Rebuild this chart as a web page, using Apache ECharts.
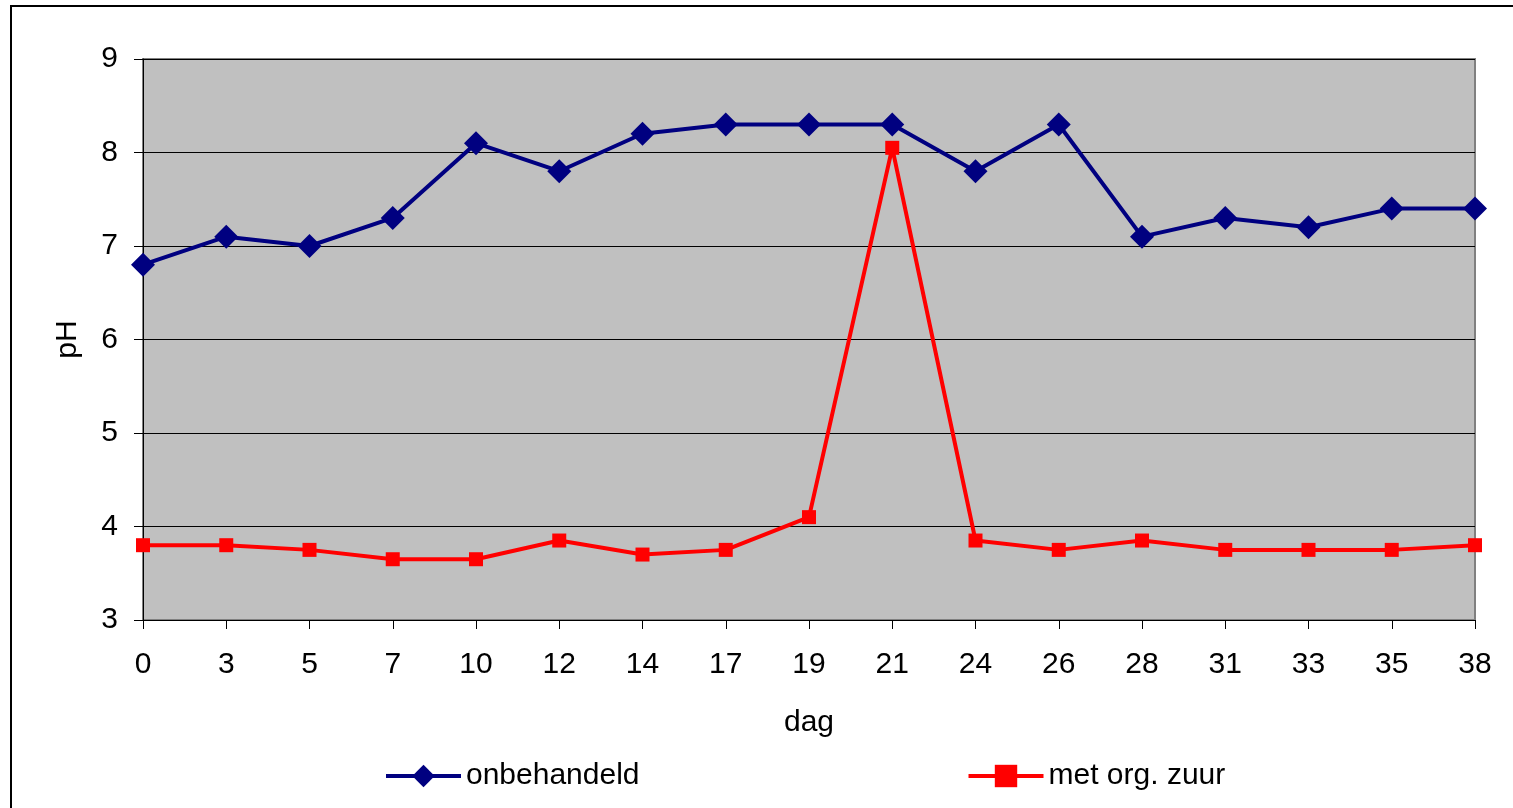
<!DOCTYPE html>
<html>
<head>
<meta charset="utf-8">
<script src="https://cdn.jsdelivr.net/npm/echarts@6/dist/echarts.min.js"></script>
<style>
  html, body { margin: 0; padding: 0; background: #fff; overflow: hidden; }
  #frame { position: absolute; left: 10px; top: 5px; width: 1520px; height: 820px; border: 2px solid #000; box-sizing: border-box; }
  #chart { position: absolute; left: 0; top: 0; width: 1513px; height: 808px; }
</style>
</head>
<body>
<div id="frame"></div>
<div id="chart"></div>
<script>
// dagen en pH-waarden
const days = ['0', '3', '5', '7', '10', '12', '14', '17', '19', '21', '24', '26', '28', '31', '33', '35', '38']
const onbehandeld = [6.8, 7.1, 7.0, 7.3, 8.1, 7.8, 8.2, 8.3, 8.3, 8.3, 7.8, 8.3, 7.1, 7.3, 7.2, 7.4, 7.4]
const metOrgZuur = [3.8, 3.8, 3.75, 3.65, 3.65, 3.85, 3.7, 3.75, 4.1, 8.05, 3.85, 3.75, 3.85, 3.75, 3.75, 3.75, 3.8]

const font = 'Liberation Sans, Arial, sans-serif'
const fs = 30
const myChart = echarts.init(document.getElementById('chart'))

myChart.setOption({
  animation: false,
  textStyle: { fontFamily: font },
  grid: {
    left: 143, right: 38, top: 59, bottom: 188,
    show: true,
    backgroundColor: '#c0c0c0',
    borderColor: '#808080',
    borderWidth: 2
  },
  legend: {
    left: 379,
    top: 756,
    itemGap: 327,
    itemWidth: 75,
    itemHeight: 28,
    lineStyle: { width: 4 },
    textStyle: { fontSize: fs, color: '#000', fontFamily: font },
    data: ['onbehandeld', 'met org. zuur']
  },
  xAxis: {
    type: 'category',
    data: days,
    boundaryGap: false,
    name: 'dag',
    nameLocation: 'middle',
    nameGap: 88,
    nameTextStyle: { fontSize: fs, color: '#000', fontFamily: font },
    axisLine: { lineStyle: { color: '#000', width: 1 } },
    axisTick: { show: true, length: 9, lineStyle: { color: '#000' }, alignWithLabel: true },
    axisLabel: { fontSize: fs, color: '#000', margin: 30, fontFamily: font },
    splitLine: { show: false }
  },
  yAxis: {
    type: 'value',
    min: 3,
    max: 9,
    interval: 1,
    name: 'pH',
    nameLocation: 'middle',
    nameGap: 60,
    nameRotate: 90,
    nameTextStyle: { fontSize: fs, color: '#000', fontFamily: font },
    axisLine: { show: true, lineStyle: { color: '#000', width: 1 } },
    axisTick: { show: true, length: 9, lineStyle: { color: '#000' } },
    axisLabel: { fontSize: fs, color: '#000', margin: 25, fontFamily: font },
    splitLine: { show: true, lineStyle: { color: '#000', width: 1 } }
  },
  series: [
    {
      name: 'onbehandeld',
      type: 'line',
      data: onbehandeld,
      symbol: 'diamond',
      symbolSize: 24,
      color: '#000080',
      lineStyle: { width: 4, color: '#000080' },
      itemStyle: { color: '#000080' }
    },
    {
      name: 'met org. zuur',
      type: 'line',
      data: metOrgZuur,
      symbol: 'rect',
      symbolSize: 14,
      color: '#ff0000',
      lineStyle: { width: 4, color: '#ff0000' },
      itemStyle: { color: '#ff0000' }
    }
  ]
})
</script>
</body>
</html>
